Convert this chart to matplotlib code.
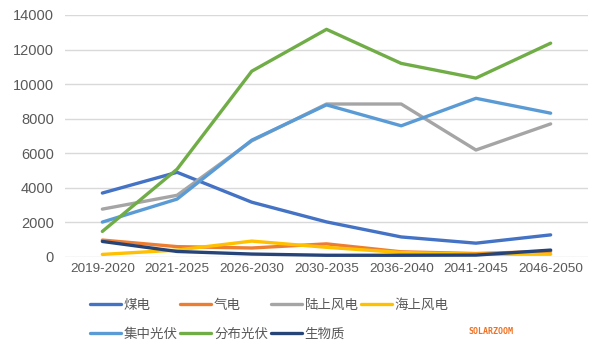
import matplotlib
matplotlib.use("Agg")
import matplotlib.pyplot as plt

plt.rcParams['font.family'] = ['Liberation Sans', 'Noto Sans CJK SC', 'DejaVu Sans']

categories = ["2019-2020", "2021-2025", "2026-2030", "2030-2035", "2036-2040", "2041-2045", "2046-2050"]
series_names = ["煤电", "气电", "陆上风电", "海上风电", "集中光伏", "分布光伏", "生物质"]
coal = [3700, 4900, 3170, 2030, 1160, 800, 1280]
gas = [980, 600, 520, 760, 300, 200, 330]
onshore_wind = [2770, 3570, 6720, 8850, 8850, 6190, 7700]
offshore_wind = [150, 400, 920, 560, 260, 160, 160]
central_pv = [2020, 3350, 6760, 8800, 7590, 9180, 8320]
distributed_pv = [1480, 5080, 10750, 13170, 11200, 10350, 12370]
biomass = [900, 320, 170, 100, 100, 110, 400]
yticks = [0, 2000, 4000, 6000, 8000, 10000, 12000, 14000]

data = [coal, gas, onshore_wind, offshore_wind, central_pv, distributed_pv, biomass]
colors = ["#4472C4", "#ED7D31", "#A5A5A5", "#FFC000", "#5B9BD5", "#70AD47", "#264478"]

fig = plt.figure(figsize=(6, 3.52), dpi=100)
ax = fig.add_axes([65/600, 1-257/352, (588-65)/600, (257-15)/352])

x = list(range(len(categories)))
handles = []
for vals, name, c in zip(data, series_names, colors):
    h, = ax.plot(x, vals, color=c, lw=2.4, label=name, solid_capstyle='round', solid_joinstyle='round')
    handles.append(h)

ax.set_xlim(-0.5, len(categories) - 0.5)
ax.set_ylim(0, 14000)
ax.set_yticks(yticks)
ax.set_yticklabels([str(v) for v in yticks])
ax.set_xticks(x)
ax.set_xticklabels(categories)
ax.grid(axis='y', color='#D9D9D9', lw=1)
ax.set_axisbelow(True)
for s in ax.spines.values():
    s.set_visible(False)
ax.tick_params(axis='both', length=0, colors='#595959')
ax.tick_params(axis='y', labelsize=10.5, pad=8)
ax.tick_params(axis='x', labelsize=9.7, pad=4)

order = [0, 4, 1, 5, 2, 6, 3]
leg = fig.legend([handles[i] for i in order], [series_names[i] for i in order],
                 ncol=4, loc='upper left', bbox_to_anchor=(90/600, 1-299/352),
                 frameon=False, fontsize=9.7, borderpad=0, borderaxespad=0,
                 handlelength=2.3, handletextpad=0.2, columnspacing=0.2,
                 labelspacing=1.25, labelcolor='#595959')

fig.text(468/600, 1-331/352, "SOLARZOOM", color='#F07020', fontsize=6,
         family='DejaVu Sans Mono', fontweight='bold', va='center', ha='left')

fig.savefig("out.png", dpi=100)
